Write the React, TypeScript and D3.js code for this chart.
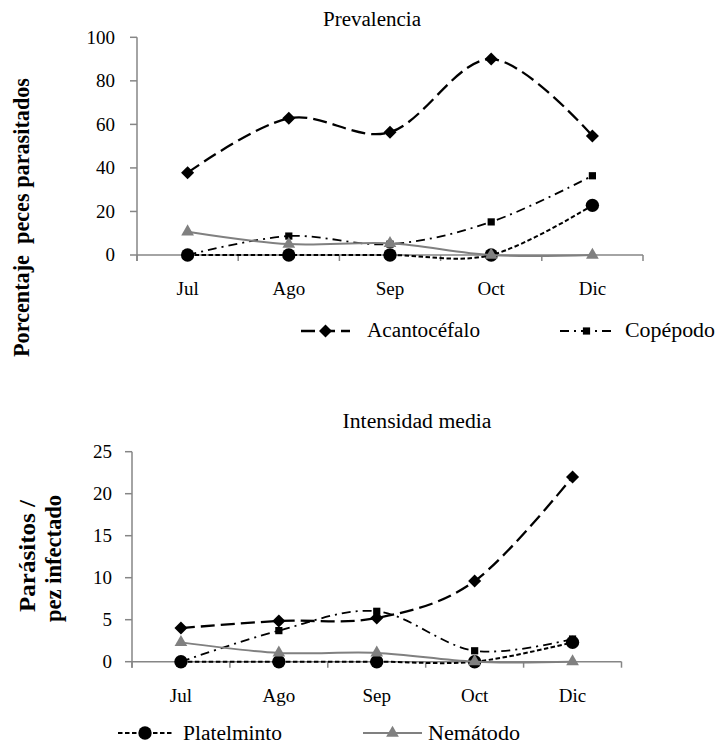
import * as d3 from 'd3';

const months = ['Jul', 'Ago', 'Sep', 'Oct', 'Dic'];
const seriesNames = ['Acantocéfalo', 'Copépodo', 'Platelminto', 'Nemátodo'];

// Prevalencia (% peces parasitados)
const prevAcantocefalo = [37.8, 62.8, 56.4, 90, 54.7];
const prevCopepodo = [0, 8.7, 5, 15.2, 36.4];
const prevPlatelminto = [0, 0, 0, 0, 22.8];
const prevNematodo = [10.7, 5, 5.4, 0, 0];
const prevTicks = [0, 20, 40, 60, 80, 100];

// Intensidad media (parásitos / pez infectado)
const intAcantocefalo = [4.0, 4.85, 5.2, 9.6, 22.0];
const intCopepodo = [0, 3.7, 6.0, 1.3, 2.7];
const intPlatelminto = [0, 0, 0, 0, 2.3];
const intNematodo = [2.3, 1.05, 1.05, 0, 0];
const intTicks = [0, 5, 10, 15, 20, 25];

const FONT = "'Liberation Serif', 'DejaVu Serif', serif";
const AXIS = '#868686';

type SeriesStyle = {
  stroke: string;
  width: number;
  dash: string;
  symbol: d3.SymbolType;
  size: number;
  rotate: number;
};

const seriesStyles: SeriesStyle[] = [
  { stroke: '#000', width: 2.3, dash: '14,6', symbol: d3.symbolSquare, size: 85, rotate: 45 },
  { stroke: '#000', width: 1.8, dash: '9,5,2,5', symbol: d3.symbolSquare, size: 52, rotate: 0 },
  { stroke: '#000', width: 2, dash: '4.5,2.5', symbol: d3.symbolCircle, size: 140, rotate: 0 },
  { stroke: '#808080', width: 2, dash: '', symbol: d3.symbolTriangle, size: 70, rotate: 0 },
];

interface PanelProps {
  left: number;
  right: number;
  top: number;
  bottom: number;
  maxY: number;
  ticks: number[];
  series: number[][];
  title: string;
  titleX: number;
  titleY: number;
  titleLength: number;
  labelY: number;
  tickGap: number;
}

function Panel({ left, right, top, bottom, maxY, ticks, series, title, titleX, titleY, titleLength, labelY, tickGap }: PanelProps) {
  const x = d3.scaleBand().domain(months).range([left, right]);
  const y = d3.scaleLinear().domain([0, maxY]).range([bottom, top]);
  const cx = (i: number) => (x(months[i]) as number) + x.bandwidth() / 2;

  // Excel-style smoothed line
  const line = d3
    .line<number>()
    .x((_, i) => cx(i))
    .y((d) => y(d))
    .curve(d3.curveCardinal.tension(0));

  const boundaries = months.map((m) => x(m) as number).concat([right]);

  return (
    <g>
      <text x={titleX} y={titleY} textAnchor="middle" fontSize={20} fontFamily={FONT} textLength={titleLength} lengthAdjust="spacingAndGlyphs">
        {title}
      </text>

      {/* y axis */}
      <line x1={left} x2={left} y1={top} y2={bottom + 6} stroke={AXIS} strokeWidth={1.5} />
      {ticks.map((t) => (
        <g key={t}>
          <line x1={left - 7} x2={left} y1={y(t)} y2={y(t)} stroke={AXIS} strokeWidth={1.5} />
          <text x={left - tickGap} y={y(t)} dy="0.33em" textAnchor="end" fontSize={19} fontFamily={FONT}>
            {t}
          </text>
        </g>
      ))}

      {/* x axis */}
      <line x1={left} x2={right} y1={bottom} y2={bottom} stroke={AXIS} strokeWidth={1.5} />
      {boundaries.map((b, i) => (
        <line key={i} x1={b} x2={b} y1={bottom} y2={bottom + 6} stroke={AXIS} strokeWidth={1.5} />
      ))}
      {months.map((m, i) => (
        <text key={m} x={cx(i)} y={labelY} textAnchor="middle" fontSize={19} fontFamily={FONT}>
          {m}
        </text>
      ))}

      {series.map((values, s) => {
        const st = seriesStyles[s];
        return (
          <g key={seriesNames[s]}>
            <path d={line(values) ?? ''} fill="none" stroke={st.stroke} strokeWidth={st.width} strokeDasharray={st.dash || undefined} />
            {values.map((v, i) => (
              <path
                key={i}
                d={d3.symbol(st.symbol, st.size)() ?? ''}
                transform={`translate(${cx(i)},${y(v)}) rotate(${st.rotate})`}
                fill={st.stroke}
              />
            ))}
          </g>
        );
      })}
    </g>
  );
}

interface LegendItemProps {
  index: number;
  x1: number;
  x2: number;
  y: number;
  textX: number;
  textY: number;
  textLength: number;
}

function LegendItem({ index, x1, x2, y, textX, textY, textLength }: LegendItemProps) {
  const st = seriesStyles[index];
  const mid = (x1 + x2) / 2;
  return (
    <g>
      <line x1={x1} x2={x2} y1={y} y2={y} stroke={st.stroke} strokeWidth={st.width} strokeDasharray={st.dash || undefined} />
      <path d={d3.symbol(st.symbol, st.size)() ?? ''} transform={`translate(${mid},${y}) rotate(${st.rotate})`} fill={st.stroke} />
      <text x={textX} y={textY} fontSize={20} fontFamily={FONT} textLength={textLength} lengthAdjust="spacingAndGlyphs">
        {seriesNames[index]}
      </text>
    </g>
  );
}

export default function App() {
  return (
    <div style={{ position: 'absolute', left: 0, top: 0 }}>
      <svg width={720} height={743} style={{ display: 'block', background: '#fff' }}>
        <Panel
          left={137}
          right={643}
          top={37.3}
          bottom={255}
          maxY={100}
          ticks={prevTicks}
          series={[prevAcantocefalo, prevCopepodo, prevPlatelminto, prevNematodo]}
          title="Prevalencia"
          titleX={372}
          titleY={26}
          titleLength={98}
          labelY={295}
          tickGap={22}
        />
        <text
          transform="translate(29,217.5) rotate(-90)"
          textAnchor="middle"
          fontSize={23}
          fontWeight="bold"
          fontFamily={FONT}
          textLength={279}
          lengthAdjust="spacingAndGlyphs"
          style={{ whiteSpace: 'pre' }}
        >
          {'Porcentaje  peces parasitados'}
        </text>
        <LegendItem index={0} x1={301} x2={350} y={331} textX={367} textY={337} textLength={113} />
        <LegendItem index={1} x1={560} x2={613} y={331} textX={625} textY={337} textLength={90} />

        <Panel
          left={132}
          right={621.5}
          top={451.7}
          bottom={661.7}
          maxY={25}
          ticks={intTicks}
          series={[intAcantocefalo, intCopepodo, intPlatelminto, intNematodo]}
          title="Intensidad media"
          titleX={417}
          titleY={428}
          titleLength={149}
          labelY={702}
          tickGap={20}
        />
        <text
          transform="translate(35,556) rotate(-90)"
          textAnchor="middle"
          fontSize={23}
          fontWeight="bold"
          fontFamily={FONT}
          textLength={112}
          lengthAdjust="spacingAndGlyphs"
        >
          Parásitos /
        </text>
        <text
          transform="translate(61,558.5) rotate(-90)"
          textAnchor="middle"
          fontSize={23}
          fontWeight="bold"
          fontFamily={FONT}
          textLength={127}
          lengthAdjust="spacingAndGlyphs"
        >
          pez infectado
        </text>
        <LegendItem index={2} x1={118} x2={172} y={733} textX={183} textY={740} textLength={99} />
        <LegendItem index={3} x1={363} x2={422} y={733} textX={428} textY={740} textLength={92} />
      </svg>
    </div>
  );
}
